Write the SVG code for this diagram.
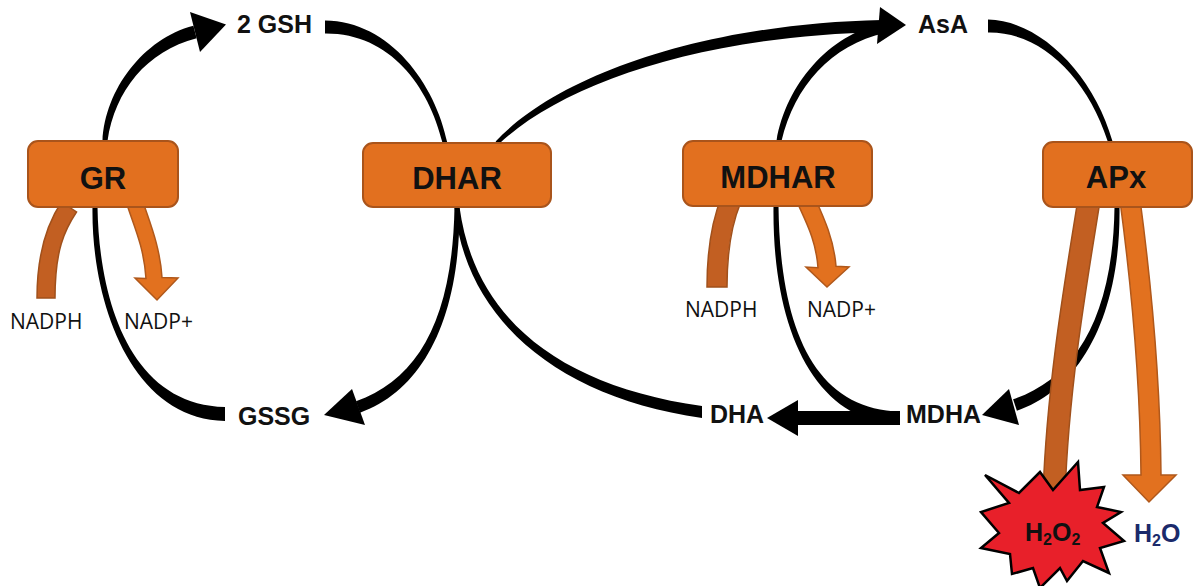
<svg xmlns="http://www.w3.org/2000/svg" width="1195" height="586" viewBox="0 0 1195 586">
<style>
.k{fill:#000}
.box{fill:#E2701F;stroke:#A9541B;stroke-width:2}
.lbl{font-family:"Liberation Sans",Arial,sans-serif;font-weight:bold;fill:#111}
.enz{font-size:31px;text-anchor:middle}
.met{font-size:25px}
.co{font-family:"Open Sans","Liberation Sans",sans-serif;font-size:21px;fill:#111}
.in{fill:#C25F22;stroke:#A0501B;stroke-width:1.5}
.out{fill:#E2711F;stroke:#B0581B;stroke-width:1.5}
</style>
<rect width="1195" height="586" fill="#fff"/>
<g id="connectors">
  <!-- GR -> 2 GSH -->
  <path class="k" d="M102.5,141 C105,89.5 143.4,38.7 193.4,25.7 L196.6,38.3 C146.6,51.3 115,90.5 107.5,141 Z"/>
  <polygon class="k" points="226,24.5 190,12 200,52"/>
  <!-- 2 GSH -> DHAR -->
  <path class="k" d="M325,20.5 C390,21 435.4,84.2 447.4,143 L442.6,143 C428.6,85.8 390,33 325,33.5 Z"/>
  <!-- DHAR -> AsA -->
  <path class="k" d="M495.6,141.6 C556.5,76.5 699.9,24 881.9,20 L882.1,32 C700.1,36 563.5,83.5 498.4,144.4 Z"/>
  <!-- MDHAR -> AsA -->
  <path class="k" d="M776.5,141 C786.1,84.2 828.9,35.1 882.9,23.1 L885.1,32.9 C831.1,44.9 794.5,86 781.5,141 Z"/>
  <polygon class="k" points="906,25 880,7 877,44"/>
  <!-- AsA -> APx -->
  <path class="k" d="M988,19.5 C1040,20.5 1093.4,74 1112.4,141 L1107.6,141 C1086.6,76 1040,31.5 988,32.5 Z"/>
  <!-- GR -> GSSG -->
  <path class="k" d="M97.5,207 C99,300 130.1,405 225,407 L225,421 C129.9,419 91,300 92.5,207 Z"/>
  <!-- DHAR -> GSSG -->
  <path class="k" d="M459.5,207 C460.5,320 422,390.7 360,412.7 L356,401.3 C418,379.3 452.5,320 454.5,207 Z"/>
  <polygon class="k" points="324,415 352,389 365,425"/>
  <!-- DHAR -> DHA -->
  <path class="k" d="M459.5,207 C474.5,319.5 560.8,386.1 702,406 L702,418 C559.2,397.9 465.5,320.5 454.5,207 Z"/>
  <!-- MDHAR -> MDHA (joins DHA arrow) -->
  <path class="k" d="M778.5,206 C780,330 815,409.5 900,411.5 L900,424.5 C815,422.5 772,330 773.5,206 Z"/>
  <!-- MDHA -> DHA -->
  <rect class="k" x="796" y="411" width="104" height="14"/>
  <polygon class="k" points="767,418 798,400 798,436"/>
  <!-- APx -> MDHA -->
  <path class="k" d="M1119.5,207 C1121,320 1076.9,390.7 1016.9,410.7 L1013.1,399.3 C1073.1,379.3 1113,320 1114.5,207 Z"/>
  <polygon class="k" points="982,415 1009,389 1019,425"/>
  <!-- cofactor arrows -->
  <path class="in" d="M61.5,202 C49.5,220 37,250 37,298 L55,298 C55,250 64.5,230 76.5,212 Z"/>
  <path class="out" d="M126.3,202.3 C132.3,222.3 144,245.5 146,278.5 L135,278 L157,300 L178,278 L162,277.5 C160,244.5 147.7,217.7 141.7,197.7 Z"/>
  <path class="in" d="M721.8,196.2 C712.8,218.2 707,250 707,287 L727,287 C727,250 731.2,225.8 740.2,203.8 Z"/>
  <path class="out" d="M797.8,203.7 C806.8,223.7 816,240.7 818,267.7 L806,267 L827,287 L849,267 L836,266.3 C834,239.3 823.2,216.3 814.2,196.3 Z"/>
  <path class="in" d="M1078.1,198.3 C1067.1,268.3 1047,379.6 1043,494.6 L1065,495.4 C1069,380.4 1088.9,271.7 1099.9,201.7 Z"/>
  <path class="out" d="M1120.1,201.3 C1128.1,261.3 1140,360.1 1141,475.1 L1123,475 L1149,502 L1176,475 L1161,474.9 C1160,359.9 1147.9,258.7 1139.9,198.7 Z"/>
</g>
<g id="GR">
  <rect class="box" x="28" y="141" width="150" height="66" rx="10"/>
  <text class="lbl enz" x="103" y="189">GR</text>
</g>
<g id="DHAR">
  <rect class="box" x="363" y="143" width="188" height="64" rx="10"/>
  <text class="lbl enz" x="457" y="189">DHAR</text>
</g>
<g id="MDHAR">
  <rect class="box" x="683" y="141" width="189" height="65" rx="10"/>
  <text class="lbl enz" x="778" y="188">MDHAR</text>
</g>
<g id="APx">
  <rect class="box" x="1043" y="142" width="149" height="65" rx="10"/>
  <text class="lbl enz" x="1116" y="188">APx</text>
</g>
<g id="GSH"><text class="lbl met" x="237" y="33">2 GSH</text></g>
<g id="GSSG"><text class="lbl met" x="238" y="425">GSSG</text></g>
<g id="AsA"><text class="lbl met" x="918" y="33">AsA</text></g>
<g id="DHA"><text class="lbl met" x="710" y="423">DHA</text></g>
<g id="MDHA"><text class="lbl met" x="906" y="423" font-size="24">MDHA</text></g>
<g id="GR-cofactors">
  <text class="co" x="10" y="329">NADPH</text>
  <text class="co" x="124" y="329">NADP+</text>
</g>
<g id="MDHAR-cofactors">
  <text class="co" x="685" y="317">NADPH</text>
  <text class="co" x="807" y="317">NADP+</text>
</g>
<g id="H2O2">
  <polygon points="985,475 1019,493 1040,472 1053,490 1078,462 1080,490 1104,487 1097,507 1121,512 1103,523 1124,541 1100,548 1109,573 1083,561 1067,581 1060,568 1040,588 1033,568 1012,574 1010,554 981,548 999,533 981,512 1009,503" fill="#E8202A" stroke="#000" stroke-width="2.5" stroke-linejoin="miter"/>
  <text class="lbl" x="1025" y="541" font-size="25">H<tspan font-size="16" dy="4">2</tspan><tspan dy="-4">O</tspan><tspan font-size="16" dy="4">2</tspan></text>
</g>
<g id="H2O">
  <text class="lbl" x="1134" y="542" font-size="25" style="fill:#1B2A6B">H<tspan font-size="16" dy="4">2</tspan><tspan dy="-4">O</tspan></text>
</g>
</svg>
